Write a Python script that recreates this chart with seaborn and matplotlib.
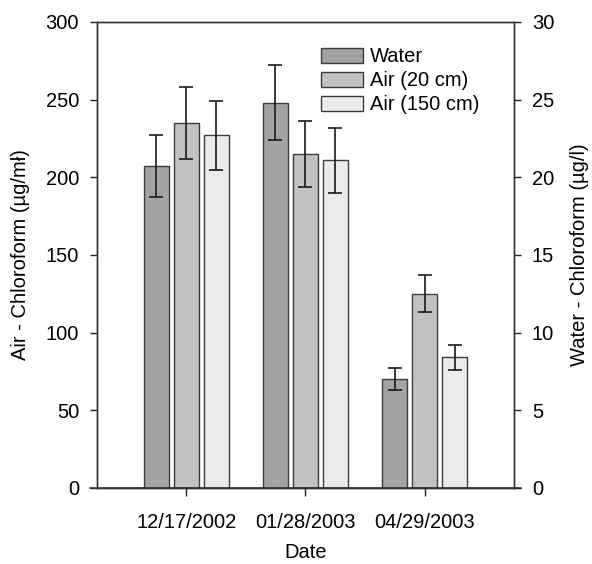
import pandas as pd
import seaborn as sns
import matplotlib.pyplot as plt
import numpy as np

# values
dates = ["12/17/2002", "01/28/2003", "04/29/2003"]
series = ["Water", "Air (20 cm)", "Air (150 cm)"]
water = [20.7, 24.8, 7.0]          # ug/l, right axis
water_err = [2.0, 2.4, 0.7]
air20 = [235, 215, 125]            # left axis
air20_err = [23, 21, 12]
air150 = [227, 211, 84]
air150_err = [22, 21, 8]
colors = ["#a3a3a3", "#c2c2c2", "#ebebeb"]

sns.set_theme(style="ticks")
plt.rcParams["font.family"] = ["Liberation Sans", "DejaVu Sans"]
plt.rcParams["text.color"] = "black"
plt.rcParams["axes.labelcolor"] = "black"
plt.rcParams["xtick.color"] = "#222222"
plt.rcParams["ytick.color"] = "#222222"
plt.rcParams["xtick.labelcolor"] = "black"
plt.rcParams["ytick.labelcolor"] = "black"
fs = 14.5

# water is plotted on the left scale (x10) so it lines up with the right axis
df = pd.DataFrame({
    "Date": dates * 3,
    "Series": [s for s in series for _ in dates],
    "value": [w * 10 for w in water] + air20 + air150,
    "err": [e * 10 for e in water_err] + air20_err + air150_err,
})

fig = plt.figure(figsize=(5.92, 5.64), dpi=100)
ax = fig.add_axes([0.164, 0.135, 0.704, 0.826])

sns.barplot(data=df, x="Date", y="value", hue="Series", order=dates,
            hue_order=series, palette=colors, width=0.756, gap=0.19,
            edgecolor="#3c3c3c", linewidth=1, errorbar=None, ax=ax)

# error bars at the bar centres, one container per series
errs = df.set_index(["Series", "Date"])
for s, cont in zip(series, ax.containers):
    for d, p in zip(dates, cont.patches):
        ax.errorbar(p.get_x() + p.get_width() / 2, p.get_height(),
                    yerr=errs.loc[(s, d), "err"], fmt="none", ecolor="#1a1a1a",
                    elinewidth=1.2, capsize=5, capthick=1.2)

ax.set_xlim(-0.75, 2.75)
ax.set_ylim(0, 300)
ax.set_yticks(np.arange(0, 301, 50))
ax.set_xlabel("Date", fontsize=fs, labelpad=8)
ax.set_ylabel("Air - Chloroform (µg/mł)", fontsize=fs, labelpad=11)
ax.tick_params(axis="both", labelsize=fs, direction="out", length=5, width=1)
ax.tick_params(axis="x", length=6, pad=12)
ax.tick_params(axis="y", pad=8)
for sp in ax.spines.values():
    sp.set_visible(True)
    sp.set_linewidth(1)
    sp.set_color("#333333")
ax.axhline(0, xmin=-0.016, xmax=1.016, color="#333333", lw=1.2, clip_on=False)

ax.legend(loc="upper left", bbox_to_anchor=(0.504, 0.976), frameon=False,
          fontsize=fs, handlelength=2.05, handleheight=0.75, labelspacing=0.25,
          handletextpad=0.35, borderaxespad=0.3)

ax2 = ax.twinx()
ax2.set_ylim(0, 30)
ax2.set_yticks(np.arange(0, 31, 5))
ax2.set_ylabel("Water - Chloroform (µg/l)", fontsize=fs, labelpad=11)
ax2.tick_params(axis="y", labelsize=fs, direction="out", length=5, width=1,
                pad=8)
for sp in ax2.spines.values():
    sp.set_linewidth(1)
    sp.set_color("#333333")

fig.savefig("out.png", dpi=100)
